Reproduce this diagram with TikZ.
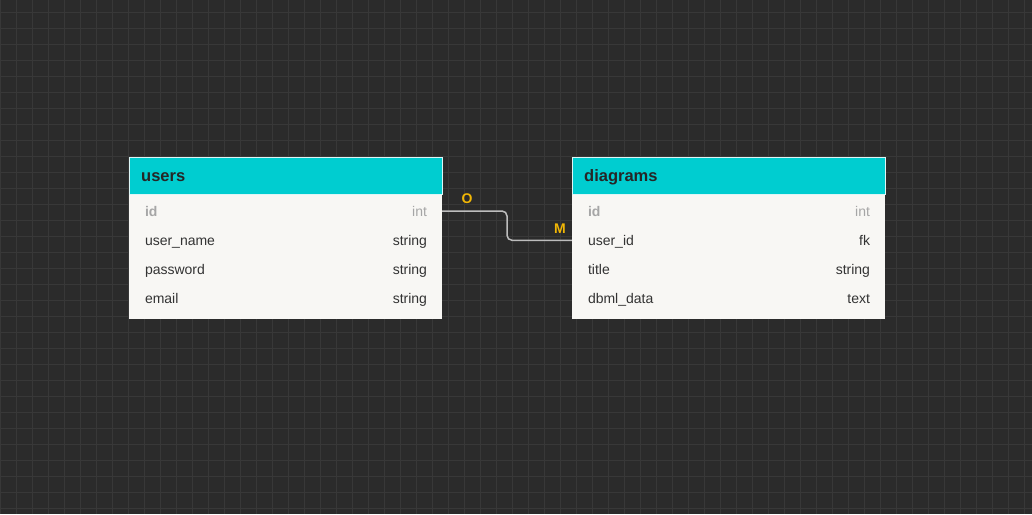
\documentclass[tikz,border=0pt]{standalone}
\usepackage{fontspec}
\setmainfont{Liberation Sans}
\usepackage{xcolor}
\usetikzlibrary{positioning,calc}

\definecolor{canvas}{HTML}{2B2B2B}
\definecolor{gridline}{HTML}{383838}
\definecolor{headcyan}{HTML}{00CDD0}
\definecolor{headedge}{HTML}{DDF6F6}
\definecolor{bodyfill}{HTML}{F8F7F4}
\definecolor{fieldtext}{HTML}{333333}
\definecolor{keytext}{HTML}{A6A6A6}
\definecolor{relline}{HTML}{BDBDBD}
\definecolor{cardlabel}{HTML}{F2B705}

\tikzset{
  tablehead/.style={draw=headedge, line width=1pt, fill=headcyan, minimum width=313pt, minimum height=37pt,
    anchor=north west},
  tabletitle/.style={anchor=west, xshift=12pt, yshift=-1pt, inner sep=0pt, text height=12pt, text depth=4pt,
    text=black!85, font=\fontsize{16.5}{18}\selectfont\bfseries},
  tablebody/.style={fill=bodyfill, minimum width=313pt, minimum height=125pt, anchor=north west, inner sep=0pt},
  row/.style={minimum width=313pt, minimum height=29.3pt, inner sep=0pt},
  fname/.style={anchor=west, xshift=16pt, text=fieldtext, font=\fontsize{14}{16}\selectfont,
    inner sep=0pt, text height=10pt, text depth=3pt},
  ftype/.style={anchor=east, xshift=-15pt, text=fieldtext, font=\fontsize{14}{16}\selectfont,
    inner sep=0pt, text height=10pt, text depth=3pt},
  pkey/.style={text=keytext},
  card/.style={text=cardlabel, font=\fontsize{14}{16}\selectfont\bfseries},
}

\begin{document}
\begin{tikzpicture}[x=1pt,y=-1pt]
    % Canvas
    \fill[canvas] (0,0) rectangle (1032,514);
    \useasboundingbox (0,0) rectangle (1032,514);
    \foreach \gx in {0,16,...,1032} \draw[gridline, line width=0.8pt] (\gx,0) -- (\gx,514);
    \foreach \gy in {12,28,...,514} \draw[gridline, line width=0.8pt] (0,\gy) -- (1032,\gy);

    % Table users
    \node[tablebody] (users-body) at (129,194) {};
    \node[tablehead] (users) at (129,157) {};
    \node[tabletitle] (users-title) at (users.west) {users};
    \node[row] (users-id) at (285.5,212.5) {};
    \node[row] (users-name) at (285.5,241.8) {};
    \node[row] (users-pass) at (285.5,271.1) {};
    \node[row] (users-mail) at (285.5,300.4) {};
    \node[fname, pkey, font=\fontsize{14}{16}\selectfont\bfseries] at (users-id.west) {id};
    \node[ftype, pkey] at (users-id.east) {int};
    \node[fname] at (users-name.west) {user\_name};
    \node[ftype] at (users-name.east) {string};
    \node[fname] at (users-pass.west) {password};
    \node[ftype] at (users-pass.east) {string};
    \node[fname] at (users-mail.west) {email};
    \node[ftype] at (users-mail.east) {string};

    % Table diagrams
    \node[tablebody] (diagrams-body) at (572,194) {};
    \node[tablehead] (diagrams) at (572,157) {};
    \node[tabletitle] (diagrams-title) at (diagrams.west) {diagrams};
    \node[row] (diagrams-id) at (728.5,212.5) {};
    \node[row] (diagrams-uid) at (728.5,241.8) {};
    \node[row] (diagrams-ttl) at (728.5,271.1) {};
    \node[row] (diagrams-data) at (728.5,300.4) {};
    \node[fname, pkey, font=\fontsize{14}{16}\selectfont\bfseries] at (diagrams-id.west) {id};
    \node[ftype, pkey] at (diagrams-id.east) {int};
    \node[fname] at (diagrams-uid.west) {user\_id};
    \node[ftype] at (diagrams-uid.east) {fk};
    \node[fname] at (diagrams-ttl.west) {title};
    \node[ftype] at (diagrams-ttl.east) {string};
    \node[fname] at (diagrams-data.west) {dbml\_data};
    \node[ftype] at (diagrams-data.east) {text};

    % Relation
    \coordinate (bend) at (507,211);
    \draw[relline, line width=1.5pt, rounded corners=5pt] (users-id.east |- bend) -- (bend) |- ($(diagrams-uid.west)+(0,-1.5)$);
    \node[card] (card-one) at (467,199) {O};
    \node[card] (card-many) at (560,229) {M};
\end{tikzpicture}
\end{document}
